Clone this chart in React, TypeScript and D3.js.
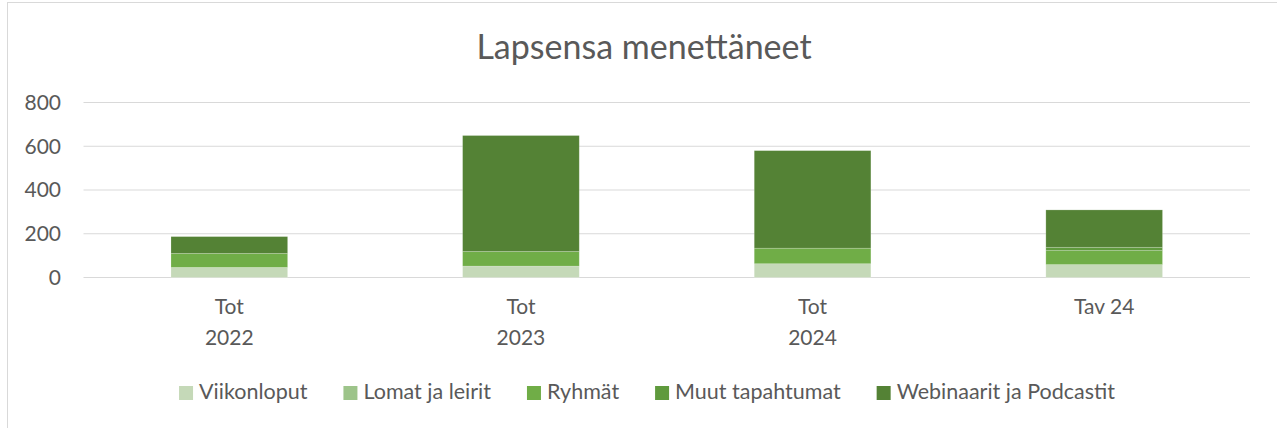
import * as d3 from "d3";
import React, { useRef, useEffect } from "react";

// categories: two-line labels
const categories = ["Tot 2022", "Tot 2023", "Tot 2024", "Tav 24"];
const categoryLines = [["Tot", "2022"], ["Tot", "2023"], ["Tot", "2024"], ["Tav 24"]];

const seriesNames = ["Viikonloput", "Lomat ja leirit", "Ryhmät", "Muut tapahtumat", "Webinaarit ja Podcastit"];
const viikonloput = [46, 52, 63, 59];
const lomat = [0, 0, 0, 0];
const ryhmat = [64, 67, 71, 64];
const muut = [0, 0, 0, 15];
const webinaarit = [77, 530, 446, 171];
const colors = ["#C5D9B8", "#9DC48A", "#70AD47", "#5F9A3D", "#548235"];
const yTicks = [0, 200, 400, 600, 800];

const W = 1277;
const H = 428;

function App() {
  const ref = useRef<SVGSVGElement>(null);

  useEffect(() => {
    draw();
  }, []);

  const draw = () => {
    const svg = d3.select(ref.current);
    svg.selectAll("*").remove();
    const font = "Lato, 'Open Sans', sans-serif";
    const textColor = "#595959";

    // chart border
    svg
      .append("rect")
      .attr("x", 7.5)
      .attr("y", 2.5)
      .attr("width", W + 10)
      .attr("height", H + 10)
      .attr("fill", "white")
      .attr("stroke", "#d9d9d9");

    svg
      .append("text")
      .attr("x", 644)
      .attr("y", 59)
      .attr("text-anchor", "middle")
      .attr("font-family", font)
      .attr("font-size", 34)
      .attr("fill", textColor)
      .text("Lapsensa menettäneet");

    const left = 83.5;
    const right = 1250;
    const x = d3.scaleBand().domain(categories).range([left, right]).paddingInner(0.6).paddingOuter(0.3);
    const y = d3.scaleLinear().domain([0, 800]).range([277.5, 102.5]);

    const grid = svg.append("g");
    grid
      .selectAll("line")
      .data(yTicks)
      .enter()
      .append("line")
      .attr("x1", left)
      .attr("x2", right)
      .attr("y1", (d) => y(d))
      .attr("y2", (d) => y(d))
      .attr("stroke", "#d9d9d9")
      .attr("stroke-width", 1);

    grid
      .selectAll("text")
      .data(yTicks)
      .enter()
      .append("text")
      .attr("x", 61)
      .attr("y", (d) => y(d))
      .attr("dy", "0.35em")
      .attr("text-anchor", "end")
      .attr("font-family", font)
      .attr("font-size", 21)
      .attr("fill", textColor)
      .text((d) => d);

    const rows = categories.map((c, i) => ({
      cat: c,
      s0: viikonloput[i],
      s1: lomat[i],
      s2: ryhmat[i],
      s3: muut[i],
      s4: webinaarit[i],
    }));
    const stack = d3.stack<any>().keys(["s0", "s1", "s2", "s3", "s4"])(rows);

    svg
      .append("g")
      .selectAll("g")
      .data(stack)
      .enter()
      .append("g")
      .attr("fill", (d, i) => colors[i])
      .selectAll("rect")
      .data((d) => d)
      .enter()
      .append("rect")
      .attr("x", (d) => x(d.data.cat)!)
      .attr("width", x.bandwidth())
      .attr("y", (d) => y(d[1]))
      .attr("height", (d) => y(d[0]) - y(d[1]))
      .attr("stroke", "rgba(255,255,255,0.25)")
      .attr("stroke-width", (d) => (d[1] - d[0] > 0 ? 0.75 : 0));

    // category labels
    const cats = svg.append("g");
    categoryLines.forEach((lines, i) => {
      const t = cats
        .append("text")
        .attr("x", x(categories[i])! + x.bandwidth() / 2)
        .attr("y", 314)
        .attr("text-anchor", "middle")
        .attr("font-family", font)
        .attr("font-size", 21)
        .attr("fill", textColor);
      lines.forEach((l, j) => {
        t.append("tspan")
          .attr("x", x(categories[i])! + x.bandwidth() / 2)
          .attr("dy", j === 0 ? 0 : 31)
          .text(l);
      });
    });

    // legend
    const legend = svg.append("g");
    const items = seriesNames.map((name, i) => {
      const g = legend.append("g");
      g.append("rect").attr("width", 14).attr("height", 14).attr("y", -13).attr("fill", colors[i]);
      const t = g
        .append("text")
        .attr("x", 20)
        .attr("font-family", font)
        .attr("font-size", 21.5)
        .attr("fill", textColor)
        .text(name);
      const w = 20 + (t.node() as SVGTextElement).getComputedTextLength();
      return { g, w };
    });
    const gap = 36;
    const total = d3.sum(items, (d) => d.w) + gap * (items.length - 1);
    let cx = 647 - total / 2;
    items.forEach((it) => {
      it.g.attr("transform", `translate(${cx},399)`);
      cx += it.w + gap;
    });
  };

  return (
    <svg ref={ref} width={W} height={H} style={{ position: "absolute", left: 0, top: 0 }}></svg>
  );
}

export default App;
